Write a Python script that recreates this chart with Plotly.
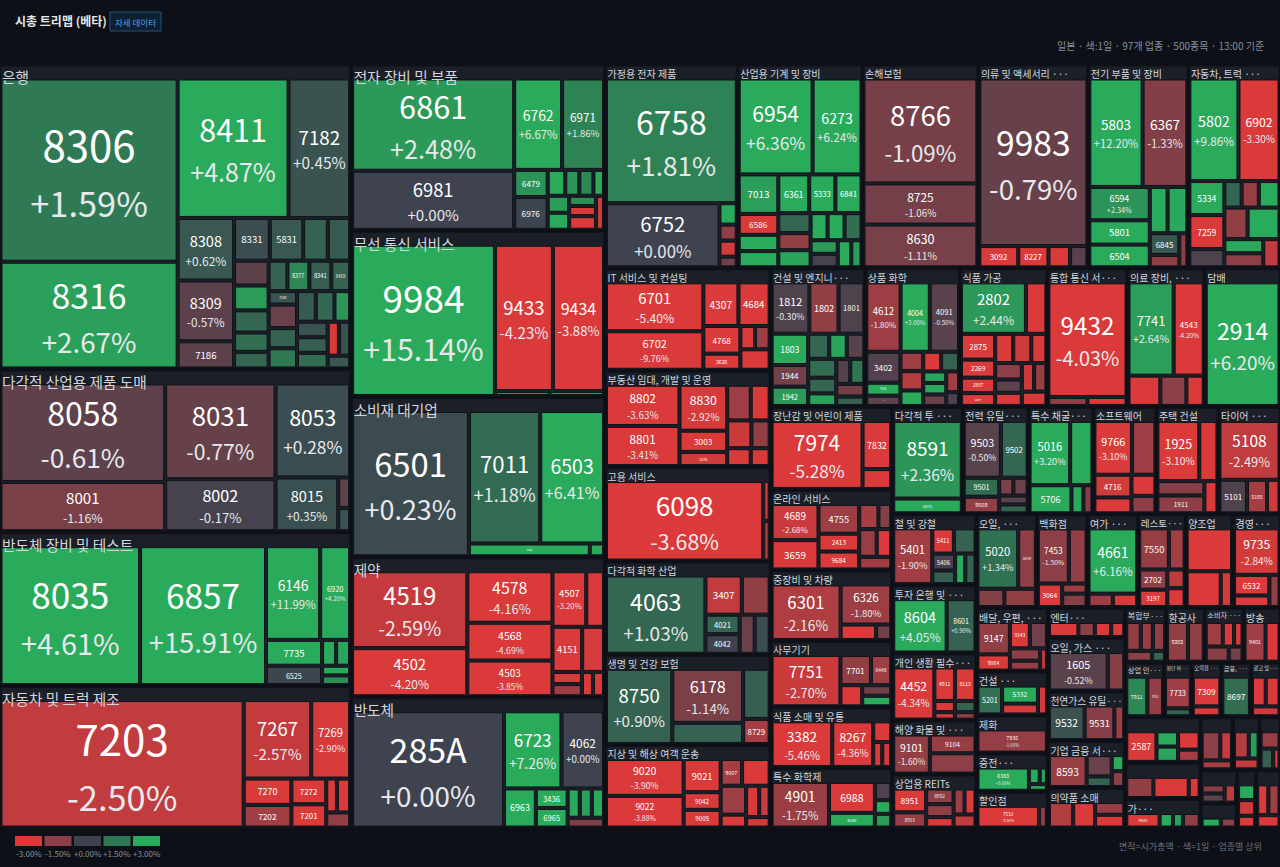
import math
import plotly.graph_objects as go

FONT = "Noto Sans CJK KR, Noto Sans, sans-serif"
BG = "#0d1016"
HEADER = "#1b1f27"
CLEAR = "rgba(0,0,0,0)"

# 업종 이름 (헤더에 잘려서 보이는 그대로, 화면 배치 순서)
sector_names = [
    "은행", "다각적 산업용 제품 도매", "반도체 장비 및 테스트", "자동차 및 트럭 제조",
    "전자 장비 및 부품", "무선 통신 서비스", "소비재 대기업", "제약", "반도체",
    "가정용 전자 제품", "산업용 기계 및 장비", "손해보험", "의류 및 액세서리 ···",
    "전기 부품 및 장비", "자동차, 트럭 ···", "IT 서비스 및 컨설팅", "부동산 임대, 개발 및 운영",
    "고용 서비스", "다각적 화학 산업", "생명 및 건강 보험", "지상 및 해상 여객 운송",
    "건설 및 엔지니···", "상품 화학", "식품 가공", "통합 통신 서···", "의료 장비, ···", "담배",
    "장난감 및 어린이 제품", "온라인 서비스", "중장비 및 차량", "사무기기", "식품 소매 및 유통",
    "특수 화학제", "다각적 투 ···", "전력 유틸···", "특수 채굴···", "소프트웨어", "주택 건설",
    "타이어 ···", "철 및 강철", "투자 은행 및 ···", "개인 생활 필수···", "해양 화물 및 ···",
    "상업용 REITs", "오일, ···", "백화점", "여가 ···", "레스토···", "양조업", "경영···",
    "배달, 우편, ···", "건설 ···", "제화", "증전···", "할인점", "엔터···", "오일, 가스 ···",
    "천연가스 유틸···", "기업 금융 서···", "의약품 소매", "복합부···", "항공사", "소비자 ···",
    "방송", "상업 인···", "첨단 의···", "오락용 ···", "금융, ···", "광고 및···",
    "", "", "가···", "", "", "", "", "", "", "",
]

# 종목 코드 (이름이 안 보이는 타일은 "", 뒤쪽 생략분도 빈 칸)
codes = [
    ["8306", "8316", "8411", "7182", "8308", "8309", "7186", "8331", "5831", "", "", "", "", "", "", "", "",
     "8377", "8341", "8418", "7180"],
    ["8058", "8001", "8031", "8002", "8053", "8015"],
    ["8035", "6857", "6146", "6920", "7735", "6525"],
    ["7203", "7267", "7269", "7270", "7202", "7272", "7201"],
    ["6861", "6981", "6762", "6971", "6479", "6976"],
    ["9984", "9433", "9434"],
    ["6501", "7011", "6503", "7012"],
    ["4519", "4502", "4578", "4568", "4503", "4507", "", "4151"],
    ["285A", "6723", "4062", "6963", "3436", "6965"],
    ["6758", "6752"],
    ["6954", "6273", "7013", "6586", "", "", "6361", "5333", "6841"],
    ["8766", "8725", "8630"],
    ["9983", "3092", "8227"],
    ["5803", "6367", "6594", "5801", "6504", "", "", "6845"],
    ["5802", "6902", "5334", "7259"],
    ["6701", "6702", "4307", "4684", "4768", "3626"],
    ["8802", "8801", "8830", "3003", "1878"],
    ["6098"],
    ["4063", "3407", "", "4021", "4042"],
    ["8750", "6178", "", "", "8729"],
    ["9020", "9022", "9021", "9042", "9005", "9007"],
    ["1812", "1802", "1801", "1803", "1944", "1942"],
    ["4612", "4004", "4091", "3402", "4182", "4183"],
    ["2802", "", "2875", "2269", "2897", "2267"],
    ["9432"],
    ["7741", "4543"],
    ["2914"],
    ["7974", "7832"],
    ["4689", "3659", "4755", "2413", "9684"],
    ["6301", "6326"],
    ["7751", "7701", "6448"],
    ["3382", "8267"],
    ["4901", "6988", "4186"],
    ["8591", "8473"],
    ["9503", "9502", "9501", "9508"],
    ["5016", "", "5706"],
    ["9766", "", "4716"],
    ["1925", "", "", "1911"],
    ["5108", "5101", "5105"],
    ["5401", "5411", "", "5406"],
    ["8604", "8601"],
    ["4452", "4911", "8113"],
    ["9101", "9104"],
    ["8951", "8953", "8952"],
    ["5020", "5019"],
    ["7453", "", "3064"],
    ["4661"],
    ["7550", "", "2702", "3197"],
    [],
    ["9735", "6532"],
    ["9147", "9064", "9143"],
    ["5201", "5332"],
    ["7936"],
    ["6383"],
    ["7532"],
    [],
    ["1605"],
    ["9532", "9531"],
    ["8593"],
    [],
    [],
    ["9202"],
    [],
    ["9401"],
    ["7911", "7912"],
    ["7733"],
    ["7309"],
    ["8697"],
    [],
    ["2587"],
    [],
    ["9843"],
    [], [], [], [], [], [], [],
]

# 시가총액 (면적)
caps = [
    [340, 198, 162, 90, 37, 36, 16, 16, 15, 11, 10, 9, 9, 8, 7, 6, 6, 7, 7, 6, 4, 7, 6, 6, 6, 6, 5, 5, 5, 5, 4, 4, 3],
    [178, 89, 116, 63, 77, 37, 4, 3],
    [214, 193, 56, 31, 16, 12, 4, 4, 3, 3],
    [345, 59, 34, 14, 12, 10, 9, 4, 5, 4],
    [164, 105, 48, 42, 10, 12, 5, 4, 4, 3, 4, 4, 3, 3, 4, 3],
    [237, 93, 82, 3, 3],
    [187, 104, 93, 17, 2],
    [99, 62, 49, 36, 34, 21, 11, 15, 11, 4, 4, 3, 3],
    [199, 50, 37, 14, 7, 7, 4, 4, 4, 4],
    [177, 79, 4, 3, 3, 2],
    [77, 51, 17, 9, 7, 7, 13, 11, 11, 7, 6, 6, 5, 5, 5, 4, 4, 4, 3],
    [130, 51, 53],
    [197, 9, 7, 5, 4],
    [63, 53, 22, 16, 15, 9, 10, 7, 4, 3],
    [55, 46, 13, 13, 7, 5, 5, 6, 8, 11, 6, 6, 5],
    [56, 44, 18, 16, 12, 7, 4, 4, 7],
    [36, 35, 26, 12, 8, 10, 8, 8, 6, 5, 4],
    [149, 3, 3],
    [93, 17, 13, 8, 8, 7, 7],
    [60, 46, 18, 16, 8],
    [35, 30, 15, 8, 8, 7, 9, 9, 4, 5, 4, 3],
    [22, 17, 15, 13, 9, 8, 6, 5, 5, 6, 5, 4, 4, 4, 4, 3],
    [27, 23, 23, 12, 5, 4, 5, 5, 4, 4, 4, 3, 3, 3, 3, 2],
    [38, 12, 10, 7, 6, 5, 6, 6, 5, 5, 4, 4, 4, 4, 4],
    [102, 4, 4],
    [48, 32, 11, 9, 6],
    [104],
    [76, 17, 7],
    [21, 17, 15, 9, 9, 6, 4, 6, 5, 5],
    [49, 26, 7, 3],
    [46, 12, 8, 6, 4, 4],
    [37, 25, 5, 3, 3],
    [35, 19, 9, 4, 3, 3],
    [63, 12],
    [25, 18, 8, 7, 3, 3, 3, 3],
    [31, 17, 14, 4, 3],
    [24, 15, 10, 7, 6, 5],
    [30, 13, 8, 10, 5],
    [42, 11, 8, 5],
    [28, 7, 7, 5, 4, 4, 4],
    [37, 20],
    [28, 9, 9, 3, 2, 3, 2],
    [20, 12, 13],
    [11, 7, 6, 5, 4, 4, 4, 4],
    [30, 13, 6, 7],
    [21, 12, 7, 3, 4],
    [39, 4, 4],
    [15, 8, 7, 6, 4, 4],
    [24, 15, 5],
    [26, 9, 5, 4],
    [14, 7, 7, 6, 5, 4, 2],
    [11, 10, 6, 4],
    [27],
    [20, 3, 2, 2],
    [23, 3],
    [9, 5, 5, 4],
    [32, 9],
    [18, 15, 5],
    [18, 8, 4, 3, 3],
    [10, 9, 6, 6],
    [6, 5, 5, 4, 2],
    [12, 9],
    [6, 4, 3, 5, 3],
    [12, 8],
    [12, 9],
    [12, 3],
    [12, 4],
    [16],
    [6, 6, 4],
    [14, 5, 5, 6, 4],
    [10, 13, 4],
    [10, 4, 3, 5],
    [8, 5, 4],
    [6, 4, 4],
    [5, 4, 2],
    [4, 4, 4],
    [5, 4],
    [4, 4, 3],
    [5, 5, 4],
]

# 1일 등락률 (%)
changes = [
    [1.59, 2.67, 4.87, 0.45, 0.62, -0.57, -0.6, 0.3, 0.6, 0.9, 0.7, -0.6, 2.5, 1.0, 1.2, 1.0, 0.9, 2.0, 0.8, 0.9, 0.5,
     -0.8, 0.9, 1.6, 0.7, 1.1, 2.4, 0.5, 0.8, 1.2, -3.1, 0.4, 0.6],
    [-0.61, -1.16, -0.77, -0.17, 0.28, 0.35, -0.6, 0.5],
    [4.61, 15.91, 11.99, 4.2, 3.96, 0.1, 3.2, 2.8, 3.5, 2.2],
    [-2.50, -2.57, -2.9, -3.29, -1.9, -3.1, -3.0, -3.2, -3.0, -1.6],
    [2.48, 0.00, 6.67, 1.86, 2.3, 0.1, 3.2, 2.4, 2.0, 3.5, 2.6, 3.1, 2.2, -3.4, -3.0, -2.8],
    [15.14, -4.23, -3.88, 2.5, 2.8],
    [0.23, 1.18, 6.41, 4.0, 3.0],
    [-2.59, -4.20, -4.16, -4.69, -3.85, -3.2, -3.0, -3.3, -2.9, -3.2, -1.8, -3.0, -3.1],
    [0.00, 7.26, 0.0, 3.5, 3.0, 3.2, 3.0, 2.6, 3.1, -1.2],
    [1.81, 0.00, 3.0, -1.5, -2.8, -1.0],
    [6.36, 6.24, 2.62, -3.2, 3.0, 3.1, 11.39, 3.0, 3.0, 1.0, -1.6, 2.8, 3.1, 3.0, 1.2, 2.5, -0.2, 3.0, 2.6],
    [-1.09, -1.06, -1.11],
    [-0.79, -3.0, -3.2, -3.0, -0.5],
    [12.20, -1.33, 2.34, 3.5, 3.2, 3.0, 2.9, 0.6, -1.6, -1.5],
    [9.86, -3.3, 3.5, -3.2, -0.3, 1.0, -1.7, 3.0, -1.6, 3.0, 2.9, -1.5, -2.5],
    [-5.40, -9.76, -3.2, -3.0, -3.3, -3.1, -3.0, -1.8, -3.0],
    [-3.63, -3.41, -2.92, -3.1, -2.8, -1.8, -3.0, -2.7, -1.6, -3.1, -2.9],
    [-3.68, -3.0, -2.5],
    [1.03, -2.5, -1.6, 0.9, 0.0, -0.8, 0.3],
    [0.90, -1.14, 0.9, 0.8, -2.0],
    [-3.90, -3.88, -3.0, -2.9, -3.1, -2.0, -3.1, -1.8, -3.0, -3.2, -2.6, -2.8],
    [-0.3, -1.6, -0.3, 3.0, -1.0, 2.5, 1.0, 2.8, -0.5, 1.2, 1.0, 2.7, -0.4, 1.5, -1.0, 0.8],
    [-1.8, 3.0, -0.5, -0.4, 3.0, -0.6, -1.8, -2.2, 3.0, -3.0, 0.9, 2.8, 2.9, -0.8, -1.9, -0.3],
    [2.44, -3.2, -3.3, -3.0, -2.9, -3.1, -3.1, -2.8, -3.0, -1.5, -0.6, -3.2, -2.7, -1.7, -3.0],
    [-4.03, -1.6, -3.0],
    [2.64, -4.20, -3.0, -1.5, -3.0],
    [6.20],
    [-5.28, -3.2, -3.0],
    [-2.68, -3.1, -1.8, -3.0, -3.1, -2.0, -1.3, -1.7, -3.2, -1.9],
    [-2.16, -1.8, -3.1, -1.0],
    [-2.70, -1.6, -1.8, -3.0, -1.0, 3.0],
    [-5.46, -4.36, -3.1, -3.0, -2.8],
    [-1.75, -4.27, 3.2, -0.3, 3.0, 2.5],
    [2.36, 3.2],
    [-0.5, 1.0, 1.2, -1.6, -1.2, -0.9, -0.5, 0.9],
    [3.2, 3.0, 3.1, 2.9, -1.4],
    [-3.1, -1.8, -2.8, -3.0, -3.2, -1.5],
    [-3.1, -3.2, -1.4, -1.5, -3.0],
    [-2.49, -0.3, -2.0, -2.7],
    [-1.9, -3.1, 0.9, -0.2, 0.8, 3.0, 0.9],
    [4.05, 0.9],
    [-4.34, -3.0, -3.1, -3.0, -2.8, 0.9, -1.6],
    [-1.6, -1.7, -1.5],
    [-3.1, -1.7, -1.5, -1.6, -3.0, -1.8, -3.0, -2.5],
    [1.34, -1.5, -1.3, -1.6],
    [-1.5, -1.6, -3.0, -1.8, -1.4],
    [6.16, -1.8, -2.9],
    [-1.7, -1.9, -1.6, -3.0, -2.4, -3.0],
    [-3.2, -3.0, -2.8],
    [-2.84, -3.1, -3.0, -1.6],
    [-1.6, -3.2, -3.1, -1.0, -1.5, -1.7, -2.8],
    [1.3, 3.2, -3.1, -2.9],
    [-1.66],
    [5.06, 3.1, 2.8, 3.0],
    [-3.3, -1.5],
    [-3.2, -1.5, -3.0, -3.1],
    [-0.52, -1.4],
    [0.4, -1.4, -1.8],
    [-1.7, -0.8, 0.9, 3.0, -1.5],
    [-2.2, -3.1, -1.7, -3.0],
    [-1.6, -1.7, -1.6, -1.5, 1.0],
    [-1.6, -1.5],
    [-1.9, -3.0, -3.0, -1.4, -1.0],
    [-1.8, -3.0],
    [2.0, -1.6],
    [-1.8, 0.9],
    [-3.1, -3.0],
    [1.2],
    [-3.1, -3.0, -2.7],
    [-3.2, 3.0, 2.8, -3.0, -2.0],
    [-1.6, -3.2, -2.9],
    [-3.3, 3.0, 2.7, -1.5],
    [-1.5, -2.6, -2.0],
    [-2.2, 2.6, -2.5],
    [-1.7, 0.8, -2.8],
    [-1.4, -0.6, -2.4],
    [3.0, -1.5],
    [3.0, -2.7, -3.0],
    [-3.1, -1.8, -3.0],
]

legend_steps = [-3.0, -1.5, 0.0, 1.5, 3.0]
legend_labels = ["-3.00%", "-1.50%", "+0.00%", "+1.50%", "+3.00%"]
legend_colors = ["#db3a3a", "#8c3f46", "#3e434f", "#2f7753", "#2aab5c"]


def hex_rgb(h):
    return tuple(int(h[i:i + 2], 16) for i in (1, 3, 5))


def pct_color(v):
    v = max(legend_steps[0], min(legend_steps[-1], v))
    for i in range(len(legend_steps) - 1):
        lo, hi = legend_steps[i], legend_steps[i + 1]
        if v <= hi:
            t = (v - lo) / (hi - lo)
            a, b = hex_rgb(legend_colors[i]), hex_rgb(legend_colors[i + 1])
            r, g, bl = (round(a[k] + (b[k] - a[k]) * t) for k in range(3))
            return f"rgb({r},{g},{bl})"
    return legend_colors[-1]


# 트리 구성: root -> 업종 -> 종목
ids, labels, parents, values = ["root"], [""], [""], [0]
leaf_fill, leaf_size, leaf_tpl, leaf_fc, custom = [BG], [10], [" "], [CLEAR], [""]
head_size, head_fc = [10], [CLEAR]

total = 0
for i, name in enumerate(sector_names):
    sid = f"s{i}"
    s_total = sum(caps[i])
    total += s_total
    ids.append(sid)
    labels.append(name)
    parents.append("root")
    values.append(s_total)
    leaf_fill.append(HEADER)
    leaf_size.append(10)
    leaf_tpl.append(" ")
    leaf_fc.append(CLEAR)
    custom.append("")
    head_size.append(16 if s_total >= 300 else 10)
    head_fc.append("#d3d7de")
    for j, (cap, chg) in enumerate(zip(caps[i], changes[i])):
        code = codes[i][j] if j < len(codes[i]) else ""
        size = max(8, min(42, 2.4 * math.sqrt(cap)))
        ids.append(f"{sid}-{j}")
        labels.append(code)
        parents.append(sid)
        values.append(cap)
        leaf_fill.append(pct_color(chg))
        leaf_size.append(size)
        if not code:
            leaf_tpl.append(" ")
            leaf_fc.append(CLEAR)
        elif cap >= 20:
            leaf_tpl.append("%{label}<br><span style='font-size:" + f"{0.82 * size:.1f}"
                            + "px;color:#e6e8ec'>%{customdata}</span>")
            leaf_fc.append("#ffffff")
        else:
            leaf_tpl.append("%{label}")
            leaf_fc.append("#ffffff")
        custom.append(f"{chg:+.2f}%")
        head_size.append(8)
        head_fc.append(CLEAR)
values[0] = total

W, H = 1280, 867
TOP1, BOTTOM = 52, 828      # 타일 트레이스
TOP2, BOTTOM2 = 35, 825     # 헤더 글자 트레이스 (3px 위로)
PAD1, PAD2 = 14, 28         # TOP1 + PAD1 == TOP2 + PAD2 + 3

common = dict(ids=ids, labels=labels, parents=parents, values=values,
              branchvalues="total", sort=False,
              tiling=dict(packing="squarify", squarifyratio=1.618),
              pathbar=dict(visible=False))

# 종목 타일 (가운데 정렬 글자)
tiles = go.Treemap(
    **common,
    customdata=custom, texttemplate=leaf_tpl,
    textposition="middle center",
    textfont=dict(family=FONT, size=leaf_size, color=leaf_fc),
    marker=dict(colors=leaf_fill, line=dict(color="#10131a", width=[0] + [1] * (len(ids) - 1)),
                pad=dict(t=PAD1, l=1, r=1, b=1)),
    domain=dict(x=[0, 1], y=[0, (BOTTOM - TOP1) / (BOTTOM - TOP2)]),
    hoverinfo="label+text",
)

# 업종 헤더 글자 (왼쪽 위 정렬), 타일 위에 투명하게 겹침
headers = go.Treemap(
    **common,
    texttemplate="%{label}",
    textposition="top left",
    textfont=dict(family=FONT, size=head_size, color=head_fc),
    marker=dict(colors=[CLEAR] * len(ids), line=dict(width=0),
                pad=dict(t=PAD2, l=1, r=1, b=1)),
    domain=dict(x=[0, 1], y=[(BOTTOM - BOTTOM2) / (BOTTOM - TOP2), 1]),
    hoverinfo="skip",
)

fig = go.Figure([tiles, headers])


def px(x):
    return x / W


def py(y):
    return (BOTTOM - y) / (BOTTOM - TOP2)


shapes = [dict(type="rect", xref="paper", yref="paper", x0=px(110), x1=px(161), y0=py(31), y1=py(12),
               line=dict(color="#25507a", width=1), fillcolor="#0f2033")]
annotations = [
    dict(text="<b>시총 트리맵 (베타)</b>", x=px(13), y=py(21), xanchor="left", yanchor="middle",
         font=dict(family=FONT, size=12, color="#e6e8ec")),
    dict(text="자세 데이터", x=px(135.5), y=py(21.5), xanchor="center", yanchor="middle",
         font=dict(family=FONT, size=8.5, color="#4da3f0")),
    dict(text="일본 · 색:1일 · 97개 업종 · 500종목 · 13:00 기준", x=px(1266), y=py(45),
         xanchor="right", yanchor="middle", font=dict(family=FONT, size=10, color="#8a919c")),
    dict(text="면적=시가총액 · 색=1일 · 업종별 상위", x=px(1264), y=py(846),
         xanchor="right", yanchor="middle", font=dict(family=FONT, size=9, color="#6d7480")),
]
for k, (lab, col) in enumerate(zip(legend_labels, legend_colors)):
    x0 = 15 + k * 29.5
    shapes.append(dict(type="rect", xref="paper", yref="paper", x0=px(x0), x1=px(x0 + 27),
                       y0=py(846), y1=py(836), line=dict(width=0), fillcolor=col))
    annotations.append(dict(text=lab, x=px(x0 + 13.5), y=py(853), xanchor="center", yanchor="middle",
                            font=dict(family=FONT, size=8, color="#8a919c")))

for a in annotations:
    a.update(xref="paper", yref="paper", showarrow=False)

fig.update_layout(
    width=W, height=H,
    margin=dict(l=0, r=0, t=TOP2, b=H - BOTTOM),
    paper_bgcolor=BG, plot_bgcolor=BG,
    font=dict(family=FONT),
    shapes=shapes, annotations=annotations,
)

fig.write_html("out.html", config={"displayModeBar": False},
               post_script="document.body.style.margin='0';document.body.style.overflow='hidden';")
